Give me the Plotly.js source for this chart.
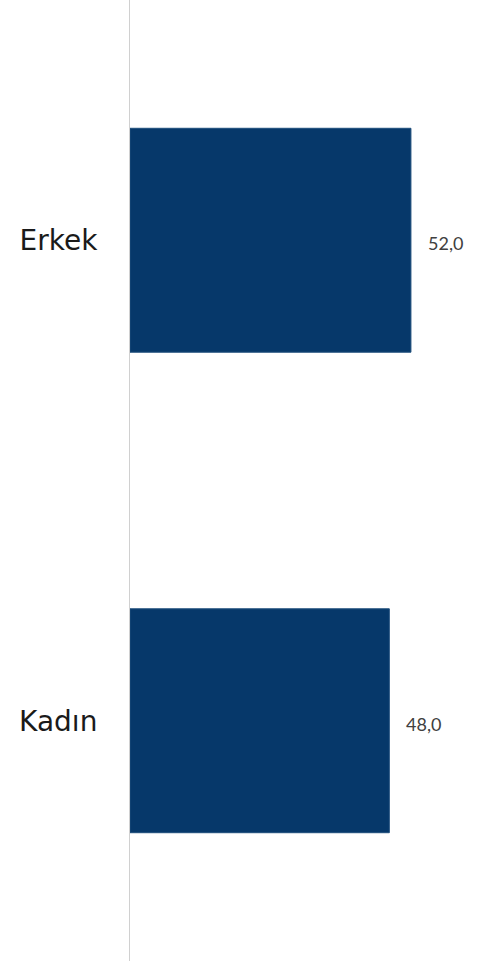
<!DOCTYPE html>
<html>
<head>
<meta charset="utf-8">
<script src="https://cdn.plot.ly/plotly-3.0.1.min.js"></script>
<style>html,body{margin:0;padding:0;background:#fff;}#chart{width:479px;height:961px;}</style>
</head>
<body>
<div id="chart"></div>
<script>
const categories = ["Kadın", "Erkek"];
const values = [48.0, 52.0];
const valueLabels = values.map(v => v.toFixed(1).replace(".", ","));

const barColor = "#06386A";

const traces = [
  {
    type: "bar",
    orientation: "h",
    y: categories,
    x: values,
    width: 0.466,
    marker: { color: barColor, line: { color: "#1f4e7c", width: 1 } },
    hoverinfo: "skip",
    showlegend: false
  }
];

const annotations = categories.map((c, i) => ({
  x: values[i], y: c, xref: "x", yref: "y",
  text: valueLabels[i], showarrow: false,
  xanchor: "left", xshift: 15, yshift: -3,
  font: { family: "Lato, 'Open Sans', sans-serif", size: 18, color: "#404040" }
}));

const layout = {
  width: 479, height: 961,
  margin: { l: 130, r: 0, t: 0, b: 0 },
  paper_bgcolor: "#ffffff", plot_bgcolor: "#ffffff",
  barmode: "overlay",
  showlegend: false,
  xaxis: {
    range: [0, 64.6], showgrid: false, zeroline: false,
    showticklabels: false, ticks: "", showline: false, fixedrange: true
  },
  yaxis: {
    range: [-0.5, 1.5], showgrid: false, zeroline: false,
    showline: true, linecolor: "#d0d0d0", linewidth: 1,
    ticks: "outside", ticklen: 26, tickcolor: "rgba(0,0,0,0)",
    tickfont: { family: "'DejaVu Sans', Verdana, sans-serif", size: 28, color: "#1a1a1a" },
    fixedrange: true
  },
  annotations: annotations
};

Plotly.newPlot("chart", traces, layout, { displayModeBar: false, staticPlot: true });
</script>
</body>
</html>
